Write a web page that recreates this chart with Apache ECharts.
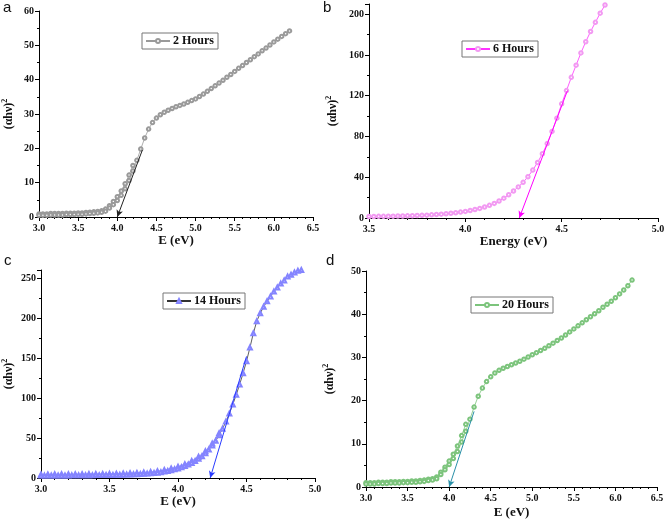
<!DOCTYPE html>
<html><head><meta charset="utf-8">
<script src="https://cdn.jsdelivr.net/npm/echarts@6/dist/echarts.min.js"></script>
<style>html,body{margin:0;padding:0;background:#fff}#c{width:669px;height:522px}</style>
</head><body><div id="c"></div>
<script>
// ---- Panel a : 2 Hours ----
const aX = [3.00,3.05,3.10,3.15,3.20,3.25,3.30,3.35,3.40,3.45,3.50,3.55,3.60,3.65,3.70,3.75,3.80,3.85,3.90,3.95,4.00,4.05,4.10,4.15,4.20,4.25,4.30,4.35,4.40,4.45,4.50,4.55,4.60,4.65,4.70,4.75,4.80,4.85,4.90,4.95,5.00,5.05,5.10,5.15,5.20,5.25,5.30,5.35,5.40,5.45,5.50,5.55,5.60,5.65,5.70,5.75,5.80,5.85,5.90,5.95,6.00,6.05,6.10,6.15,6.20];
const aY = [0.5,0.5,0.5,0.6,0.6,0.6,0.6,0.7,0.7,0.7,0.8,0.8,0.9,1.0,1.1,1.2,1.4,1.7,2.6,3.6,4.8,6.3,8.2,10.6,13.4,16.5,19.8,23.0,25.6,27.5,28.8,29.8,30.5,31.1,31.6,32.1,32.5,32.9,33.4,33.9,34.4,35.1,35.8,36.6,37.4,38.2,39.0,39.8,40.7,41.5,42.4,43.3,44.1,45.0,45.8,46.7,47.5,48.4,49.2,50.1,51.0,51.8,52.6,53.4,54.2];
const a2X = [3.00,3.05,3.10,3.15,3.20,3.25,3.30,3.35,3.40,3.45,3.50,3.55,3.60,3.65,3.70,3.75,3.80,3.85,3.90,3.95,4.00,4.05,4.10,4.15,4.20];
const a2Y = [0.9,0.9,0.9,1.0,1.0,1.0,1.0,1.1,1.1,1.1,1.2,1.2,1.3,1.4,1.5,1.6,1.8,2.3,3.3,4.5,5.9,7.6,9.7,12.2,15.0];
const aFit = [[4.32,19.5],[4.0,0]];

// ---- Panel b : 6 Hours ----
const bX = [3.500,3.525,3.550,3.575,3.600,3.625,3.650,3.675,3.700,3.725,3.750,3.775,3.800,3.825,3.850,3.875,3.900,3.925,3.950,3.975,4.000,4.025,4.050,4.075,4.100,4.125,4.150,4.175,4.200,4.225,4.250,4.275,4.300,4.325,4.350,4.375,4.400,4.425,4.450,4.475,4.500,4.525,4.550,4.575,4.600,4.625,4.650,4.675,4.700,4.725];
const bY = [1.5,1.5,1.6,1.6,1.7,1.8,1.9,2.0,2.1,2.2,2.4,2.6,2.8,3.1,3.4,3.8,4.2,4.7,5.2,5.8,6.5,7.3,8.3,9.4,10.8,12.4,14.3,16.7,19.5,22.8,26.5,30.5,35,40.5,47,54.5,63,73,85,98,112,125,138,150,162,173,183,192,201,209];
const bFit = [[4.53,125],[4.28,0]];

// ---- Panel c : 14 Hours ----
const cX = [3.000,3.025,3.050,3.075,3.100,3.125,3.150,3.175,3.200,3.225,3.250,3.275,3.300,3.325,3.350,3.375,3.400,3.425,3.450,3.475,3.500,3.525,3.550,3.575,3.600,3.625,3.650,3.675,3.700,3.725,3.750,3.775,3.800,3.825,3.850,3.875,3.900,3.925,3.950,3.975,4.000,4.025,4.050,4.075,4.100,4.125,4.150,4.175,4.200,4.225,4.250,4.275,4.300,4.325,4.350,4.375,4.400,4.425,4.450,4.475,4.500,4.525,4.550,4.575,4.600,4.625,4.650,4.675,4.700,4.725,4.750,4.775,4.800,4.825,4.850,4.875,4.900];
const cY = [3.0,3.0,3.0,3.1,3.1,3.1,3.2,3.2,3.2,3.3,3.3,3.3,3.4,3.4,3.5,3.5,3.6,3.6,3.7,3.8,3.8,3.9,4.0,4.1,4.2,4.3,4.4,4.6,4.8,5.0,5.2,5.5,5.8,6.2,6.7,7.3,8.0,8.8,9.7,10.8,12.0,13.4,15.0,16.8,18.9,21.3,24.0,27.2,31.0,35.5,40.7,46.5,53.5,61.5,70.5,80.5,92,104,117,131,146,163,181,196,206,214,221,227,233,238,243,247,252,254,257,259,260];
const c2X = [3.000,3.050,3.100,3.150,3.200,3.250,3.300,3.350,3.400,3.450,3.500,3.550,3.600,3.650,3.700,3.750,3.800,3.850,3.900,3.950,4.000,4.050,4.100,4.150,4.200,4.250,4.300];
const c2Y = [4.5,4.5,4.6,4.6,4.7,4.7,4.8,4.9,5.0,5.1,5.2,5.4,5.6,5.9,6.3,6.9,7.6,8.6,10.0,11.8,14.2,17.3,21.3,26.5,33.5,43,56];
const cFit = [[4.5,152],[4.235,0]];

// ---- Panel d : 20 Hours ----
const dX = [3.00,3.05,3.10,3.15,3.20,3.25,3.30,3.35,3.40,3.45,3.50,3.55,3.60,3.65,3.70,3.75,3.80,3.85,3.90,3.95,4.00,4.05,4.10,4.15,4.20,4.25,4.30,4.35,4.40,4.45,4.50,4.55,4.60,4.65,4.70,4.75,4.80,4.85,4.90,4.95,5.00,5.05,5.10,5.15,5.20,5.25,5.30,5.35,5.40,5.45,5.50,5.55,5.60,5.65,5.70,5.75,5.80,5.85,5.90,5.95,6.00,6.05,6.10,6.15,6.20];
const dY = [0.7,0.7,0.7,0.8,0.8,0.8,0.9,0.9,0.9,1.0,1.0,1.1,1.1,1.2,1.3,1.5,1.6,1.9,2.9,4.0,5.2,6.6,8.2,10.4,12.9,15.7,18.5,21.0,22.9,24.4,25.5,26.4,27.0,27.5,27.9,28.3,28.7,29.1,29.6,30.1,30.6,31.1,31.6,32.1,32.7,33.3,33.9,34.5,35.2,35.9,36.6,37.3,38.0,38.7,39.4,40.1,40.8,41.6,42.3,43.0,43.8,44.7,45.6,46.6,47.9];
const d2X = [3.00,3.05,3.10,3.15,3.20,3.25,3.30,3.35,3.40,3.45,3.50,3.55,3.60,3.65,3.70,3.75,3.80,3.85,3.90,3.95,4.00,4.05,4.10,4.15,4.20];
const d2Y = [1.0,1.0,1.0,1.1,1.1,1.1,1.2,1.2,1.2,1.3,1.3,1.4,1.4,1.5,1.6,1.8,1.9,2.3,3.4,4.6,6.0,7.6,9.5,11.9,14.5];
const dFit = [[4.3,17.5],[4.0,0]];

const names = ['2 Hours','6 Hours','14 Hours','20 Hours'];
const panelLetters = ['a','b','c','d'];
const xTitles = ['E (eV)','Energy (eV)','E (eV)','E (eV)'];

const serif = 'Liberation Serif';
const grids = [
  {left:34, top:11, width:279, height:206},
  {left:369, top:4, width:289, height:214},
  {left:34, top:270, width:281, height:208},
  {left:366, top:271, width:291, height:216}
];
const xr = [[3,6.5],[3.5,5],[3,5],[3,6.5]];
const yr = [[0,60,10],[0,210,40],[0,260,50],[0,50,10]];
const yGap = [22,28,24,28];
const xGap = [16,15,17,19];

const xAxes = grids.map((g,i)=>({
  gridIndex:i, type:'value', min:xr[i][0], max:xr[i][1], interval:0.5,
  name:xTitles[i], nameLocation:'middle', nameGap:xGap[i],
  nameTextStyle:{fontFamily:serif, fontWeight:'bold', fontSize:13, color:'#111'},
  axisLine:{show:true, onZero:false, lineStyle:{color:'#000', width:1}},
  axisTick:{show:true, length:4, lineStyle:{color:'#000'}},
  minorTick:{show:true, splitNumber:5, length:2, lineStyle:{color:'#000'}},
  splitLine:{show:false},
  axisLabel:{fontFamily:serif, fontWeight:'bold', fontSize:10, color:'#111', margin:6,
    formatter:v=>v.toFixed(1)}
}));
const yAxes = grids.map((g,i)=>({
  gridIndex:i, type:'value', min:yr[i][0], max:yr[i][1], interval:yr[i][2],
  name:'{m|(αhν)}{s|2}', nameLocation:'middle', nameGap:yGap[i],
  nameTextStyle:{fontFamily:serif, fontWeight:'bold', fontSize:12, color:'#111',
    rich:{m:{fontFamily:serif, fontWeight:'bold', fontSize:12, color:'#111'},
          s:{fontFamily:serif, fontWeight:'bold', fontSize:8, color:'#111', padding:[0,0,8,0]}}},
  axisLine:{show:true, onZero:false, lineStyle:{color:'#000', width:1}},
  axisTick:{show:true, length:4, lineStyle:{color:'#000'}},
  minorTick:{show:true, splitNumber:2, length:2, lineStyle:{color:'#000'}},
  splitLine:{show:false},
  axisLabel:{fontFamily:serif, fontWeight:'bold', fontSize:10, color:'#111', margin:5,
    formatter:v=> (v % yr[i][2] === 0) ? String(v) : ''}
}));

function pts(xs, ys){ return xs.map((x,k)=>[x, ys[k]]); }
function fitLine(seg, color){
  return {symbol:['none','arrow'], symbolSize:[5,7], silent:true, animation:false,
    label:{show:false}, lineStyle:{type:'solid', width:1, color:color},
    data:[[{coord:seg[0]},{coord:seg[1]}]]};
}

const styles = [
  {sym:'emptyCircle', mk:'#9a9a9a', ln:'#9a9a9a', fit:'#222', sz:3.5},
  {sym:'emptyCircle', mk:'#f29af2', ln:'#ff33ff', fit:'#ff00ff', sz:3.5},
  {sym:'emptyTriangle', mk:'#8484ff', ln:'#333', fit:'#2a3cff', sz:4},
  {sym:'emptyCircle', mk:'#7cc47c', ln:'#7cc47c', fit:'#2a90a8', sz:3.5}
];
const mainData = [pts(aX,aY), pts(bX,bY), pts(cX,cY), pts(dX,dY)];
const extraData = [pts(a2X,a2Y), null, pts(c2X,c2Y), pts(d2X,d2Y)];
const fits = [aFit,bFit,cFit,dFit];

const series = [];
for (let i=0;i<4;i++){
  const st = styles[i];
  if (extraData[i]) {
    series.push({type:'line', name:names[i]+' ', xAxisIndex:i, yAxisIndex:i, data:extraData[i],
      symbol:st.sym, symbolSize:st.sz, showSymbol:true,
      itemStyle:{color:st.mk, borderWidth:0.8}, lineStyle:{color:st.mk, width:0.8},
      animation:false, silent:true});
  }
  series.push({type:'line', name:names[i], xAxisIndex:i, yAxisIndex:i, data:mainData[i],
    symbol:st.sym, symbolSize:st.sz, showSymbol:true,
    itemStyle:{color:st.mk, borderWidth:0.8}, lineStyle:{color:st.ln, width:0.8},
    markLine: fitLine(fits[i], st.fit),
    animation:false, silent:true, z:3});
}

const legendPos = [
  {left:142, top:33}, {left:462, top:41}, {left:163, top:293}, {left:471, top:297}
];
const legends = names.map((n,i)=>({
  data:[n], left:legendPos[i].left, top:legendPos[i].top,
  orient:'horizontal', itemWidth:24, itemHeight:5, itemGap:4,
  padding:[2,4,2,3], borderColor:'#777', borderWidth:1, backgroundColor:'#fff',
  selectedMode:false,
  textStyle:{fontFamily:serif, fontWeight:'bold', fontSize:12, color:'#111', padding:[0,0,0,-2]}
}));

const letters = [[3,0],[323,0],[4,253],[326,253]].map((p,i)=>({
  type:'text', left:p[0], top:p[1],
  style:{text:panelLetters[i], font:'15px "Liberation Sans"', fill:'#111'}
}));

const chart = echarts.init(document.getElementById('c'), null, {renderer:'canvas'});
chart.setOption({
  backgroundColor:'#fff', animation:false,
  grid:grids, xAxis:xAxes, yAxis:yAxes, series:series, legend:legends, graphic:letters
});
</script></body></html>
